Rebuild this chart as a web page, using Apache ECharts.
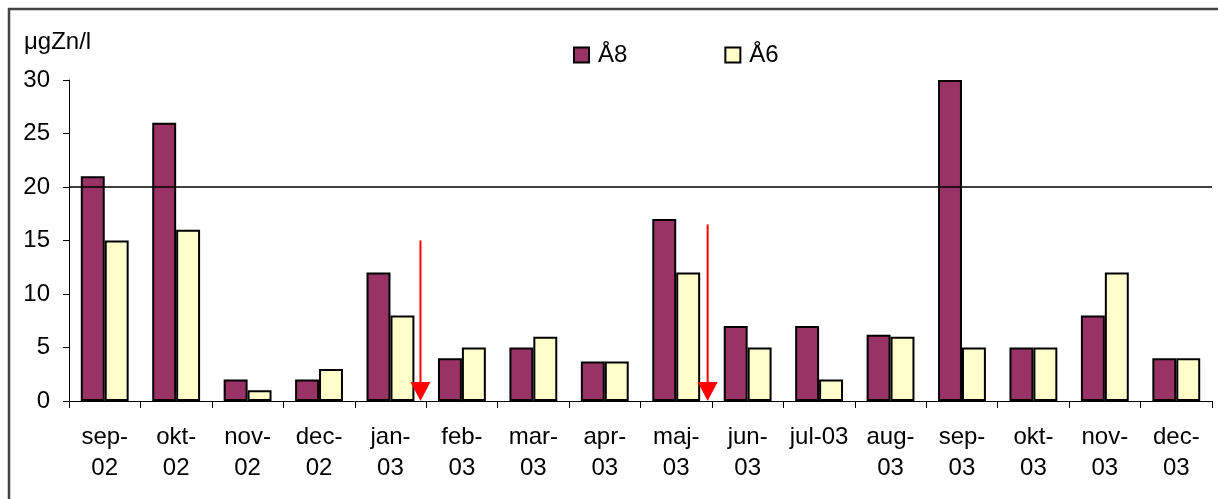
<!DOCTYPE html>
<html>
<head>
<meta charset="utf-8">
<script src="https://cdn.jsdelivr.net/npm/echarts@6/dist/echarts.min.js"></script>
<style>
  html, body { margin: 0; padding: 0; background: #fff; }
  #chart { width: 1218px; height: 499px; }
</style>
</head>
<body>
<div id="chart"></div>
<script>
// Monthly zinc concentrations (µg Zn/l) at two stations
const categories = [
  'sep-\n02', 'okt-\n02', 'nov-\n02', 'dec-\n02',
  'jan-\n03', 'feb-\n03', 'mar-\n03', 'apr-\n03',
  'maj-\n03', 'jun-\n03', 'jul-03', 'aug-\n03',
  'sep-\n03', 'okt-\n03', 'nov-\n03', 'dec-\n03'
];
const seriesA8 = [21, 26, 2, 2, 12, 4, 5, 3.7, 17, 7, 7, 6.2, 30, 5, 8, 4];
const seriesA6 = [15, 16, 1, 3, 8, 5, 6, 3.7, 12, 5, 2, 6, 5, 5, 12, 4];
const yTicks = [0, 5, 10, 15, 20, 25, 30];
const limitValue = 20;
// Event markers: position on the category scale (index units) and top value
const arrowPos = [4.42, 8.44];
const arrowTop = [15, 16.5];

const FONT = 'Liberation Sans, Arial, sans-serif';
const chart = echarts.init(document.getElementById('chart'), null, { renderer: 'canvas' });

chart.setOption({
  animation: false,
  backgroundColor: '#fff',
  textStyle: { fontFamily: FONT },
  grid: { left: 69, right: 6, top: 80, bottom: 98, containLabel: false },
  legend: {
    left: 573,
    top: 43,
    padding: 0,
    itemWidth: 15,
    itemHeight: 15,
    itemGap: 97,
    icon: 'rect',
    itemStyle: { borderColor: '#000', borderWidth: 2 },
    textStyle: { fontFamily: FONT, fontSize: 24, color: '#000', padding: [0, 0, 0, 4] },
    data: ['Å8', 'Å6']
  },
  xAxis: [
    {
      type: 'category',
      data: categories,
      boundaryGap: true,
      axisLine: { lineStyle: { color: '#000', width: 1 } },
      axisTick: { show: true, length: 7, alignWithLabel: false, lineStyle: { color: '#000' } },
      axisLabel: {
        interval: 0,
        margin: 21,
        color: '#000',
        fontFamily: FONT,
        fontSize: 24,
        lineHeight: 31,
        verticalAlign: 'top'
      }
    },
    {
      type: 'value',
      min: -0.5,
      max: 15.5,
      show: false
    }
  ],
  yAxis: {
    type: 'value',
    min: yTicks[0],
    max: yTicks[yTicks.length - 1],
    interval: yTicks[1] - yTicks[0],
    splitLine: { show: false },
    axisLine: { show: true, onZero: false, lineStyle: { color: '#000', width: 1 } },
    axisTick: { show: true, length: 6, inside: false, lineStyle: { color: '#000' } },
    axisLabel: { color: '#000', fontFamily: FONT, fontSize: 24, margin: 19 }
  },
  graphic: [
    {
      type: 'rect',
      shape: { x: 9, y: 9, width: 1400, height: 700 },
      style: { fill: 'none', stroke: '#444', lineWidth: 2.5 },
      silent: true,
      z: -1
    },
    {
      type: 'text',
      left: 24,
      top: 30,
      style: { text: 'μgZn/l', fontFamily: FONT, fontSize: 24, fill: '#000' }
    }
  ],
  series: [
    {
      name: 'Å8',
      type: 'bar',
      data: seriesA8,
      barGap: '0%',
      barCategoryGap: '33%',
      itemStyle: { color: '#993366', borderColor: '#000', borderWidth: 2 },
      markLine: {
        silent: true,
        symbol: ['none', 'none'],
        label: { show: false },
        lineStyle: { color: '#000', width: 1.5, type: 'solid' },
        data: [{ yAxis: limitValue }]
      }
    },
    {
      name: 'Å6',
      type: 'bar',
      data: seriesA6,
      barGap: '0%',
      barCategoryGap: '33%',
      itemStyle: { color: '#FFFFCC', borderColor: '#000', borderWidth: 2 }
    },
    {
      name: 'arrows',
      type: 'custom',
      xAxisIndex: 1,
      yAxisIndex: 0,
      silent: true,
      z: 10,
      data: arrowPos.map((x, i) => [x, arrowTop[i]]),
      renderItem: function (params, api) {
        const top = api.coord([api.value(0), api.value(1)]);
        const tip = api.coord([api.value(0), 0]);
        const headH = 19, headW = 20;
        return {
          type: 'group',
          children: [
            {
              type: 'line',
              shape: { x1: top[0], y1: top[1], x2: tip[0], y2: tip[1] - headH + 2 },
              style: { stroke: '#FF0000', lineWidth: 2 }
            },
            {
              type: 'polygon',
              shape: {
                points: [
                  [tip[0] - headW / 2, tip[1] - headH],
                  [tip[0] + headW / 2, tip[1] - headH],
                  [tip[0], tip[1]]
                ]
              },
              style: { fill: '#FF0000' }
            }
          ]
        };
      }
    }
  ]
});
</script>
</body>
</html>
